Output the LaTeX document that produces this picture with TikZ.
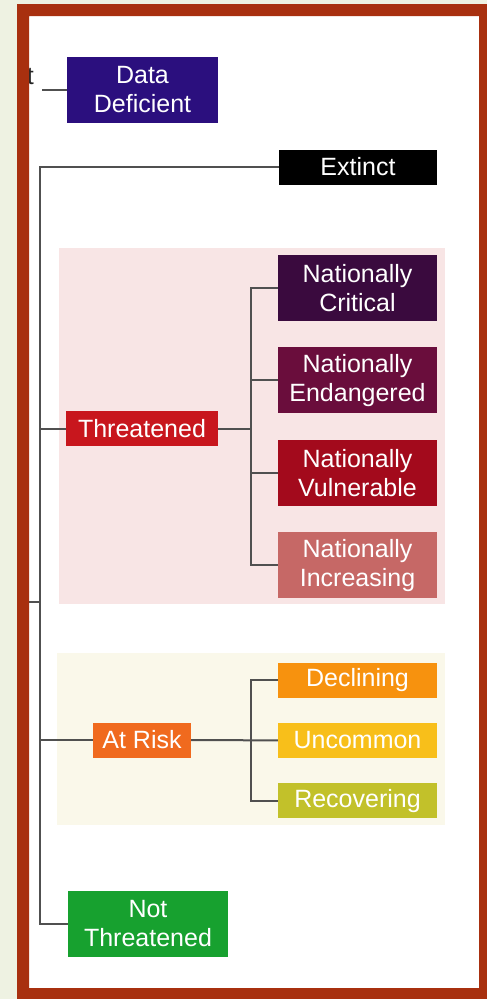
\documentclass[tikz,border=0pt]{standalone}
\usepackage{fontspec}
\setmainfont{Liberation Sans}
\usepackage{xcolor}
\usepackage{tikz}
\usetikzlibrary{positioning,calc}

\definecolor{bgcol}{HTML}{EEF2E2}
\definecolor{framecol}{HTML}{A8300F}
\definecolor{pinkpan}{HTML}{F8E5E5}
\definecolor{creampan}{HTML}{FAF8EA}
\definecolor{ddcol}{HTML}{2B0F7E}
\definecolor{thcol}{HTML}{C8161D}
\definecolor{nccol}{HTML}{3A0A3E}
\definecolor{necol}{HTML}{6A0D3C}
\definecolor{nvcol}{HTML}{A30A1C}
\definecolor{nicol}{HTML}{C66866}
\definecolor{arcol}{HTML}{F06A1E}
\definecolor{decol}{HTML}{F7920E}
\definecolor{uncol}{HTML}{F8BF1A}
\definecolor{recol}{HTML}{C2C12A}
\definecolor{ntcol}{HTML}{17A12F}
\definecolor{lncol}{HTML}{505050}

\begin{document}
\begin{tikzpicture}[
    x=1pt, y=-1pt,
    node distance=26pt and 27pt,
    cat/.style={rectangle, fill=#1, text=white, align=center, inner sep=0pt, font=\fontsize{25}{29}\selectfont},
    one/.style={minimum height=35pt},
    two/.style={minimum height=66pt},
    ln/.style={draw=lncol, line width=2pt}
]
    \useasboundingbox (0,0) rectangle (487,999);
    \fill[bgcol] (0,0) rectangle (487,999);
    \fill[white] (29,16) rectangle (479,988);
    \fill[pinkpan] (59,248) rectangle (445,604);
    \fill[creampan] (57,653) rectangle (445,825);

    \node [anchor=base east, inner sep=0pt, text=black!85, font=\fontsize{25}{29}\selectfont] (tt) at (34,84) {t};
    \node [cat=ddcol, two, minimum width=151pt] (dd) at (142.5,90) {Data\\Deficient};
    \node [cat=black, one, minimum width=158pt] (ex) at (358,167) {Extinct};

    \node [cat=thcol, one, minimum width=152pt] (th) at (142,428.5) {Threatened};
    \node [cat=nccol, two, minimum width=159pt] (nc) at (357.5,288) {Nationally\\Critical};
    \node [cat=necol, two, minimum width=159pt, below=of nc] (ne) {Nationally\\Endangered};
    \node [cat=nvcol, two, minimum width=159pt, below=of ne] (nv) {Nationally\\Vulnerable};
    \node [cat=nicol, two, minimum width=159pt, below=of nv] (ni) {Nationally\\Increasing};

    \node [cat=arcol, one, minimum width=98pt] (ar) at (142,740) {At Risk};
    \node [cat=decol, one, minimum width=159pt] (de) at (357.5,680) {Declining};
    \node [cat=uncol, one, minimum width=159pt, below=25pt of de] (un) {Uncommon};
    \node [cat=recol, one, minimum width=159pt, below=25pt of un] (re) {Recovering};

    \node [cat=ntcol, two, minimum width=160pt] (nt) at (148,924) {Not\\Threatened};

    \coordinate (top) at (40,167);
    \coordinate (stub) at (29,602);
    \draw [ln] (dd.west) -- ++(-25,0);
    \draw [ln] (ex.west) -- (top) |- (nt.west);
    \draw [ln] (th.west) -- (th.west -| top);
    \draw [ln] (ar.west) -- (ar.west -| top);
    \draw [ln] (stub) -- (stub -| top);

    \draw [ln] (th.east) -- ($(th.east -| nc.west)+(-27,0)$);
    \draw [ln] (nc.west) -- ++(-27,0) |- (ni.west);
    \draw [ln] (ne.west) -- ++(-27,0);
    \draw [ln] (nv.west) -- ++(-27,0);

    \draw [ln] (ar.east) -- (un.west);
    \draw [ln] (de.west) -- ++(-27,0) |- (re.west);

    \fill [framecol, even odd rule] (17,4) rectangle (487,999) (29,16) rectangle (479,988);
\end{tikzpicture}
\end{document}
